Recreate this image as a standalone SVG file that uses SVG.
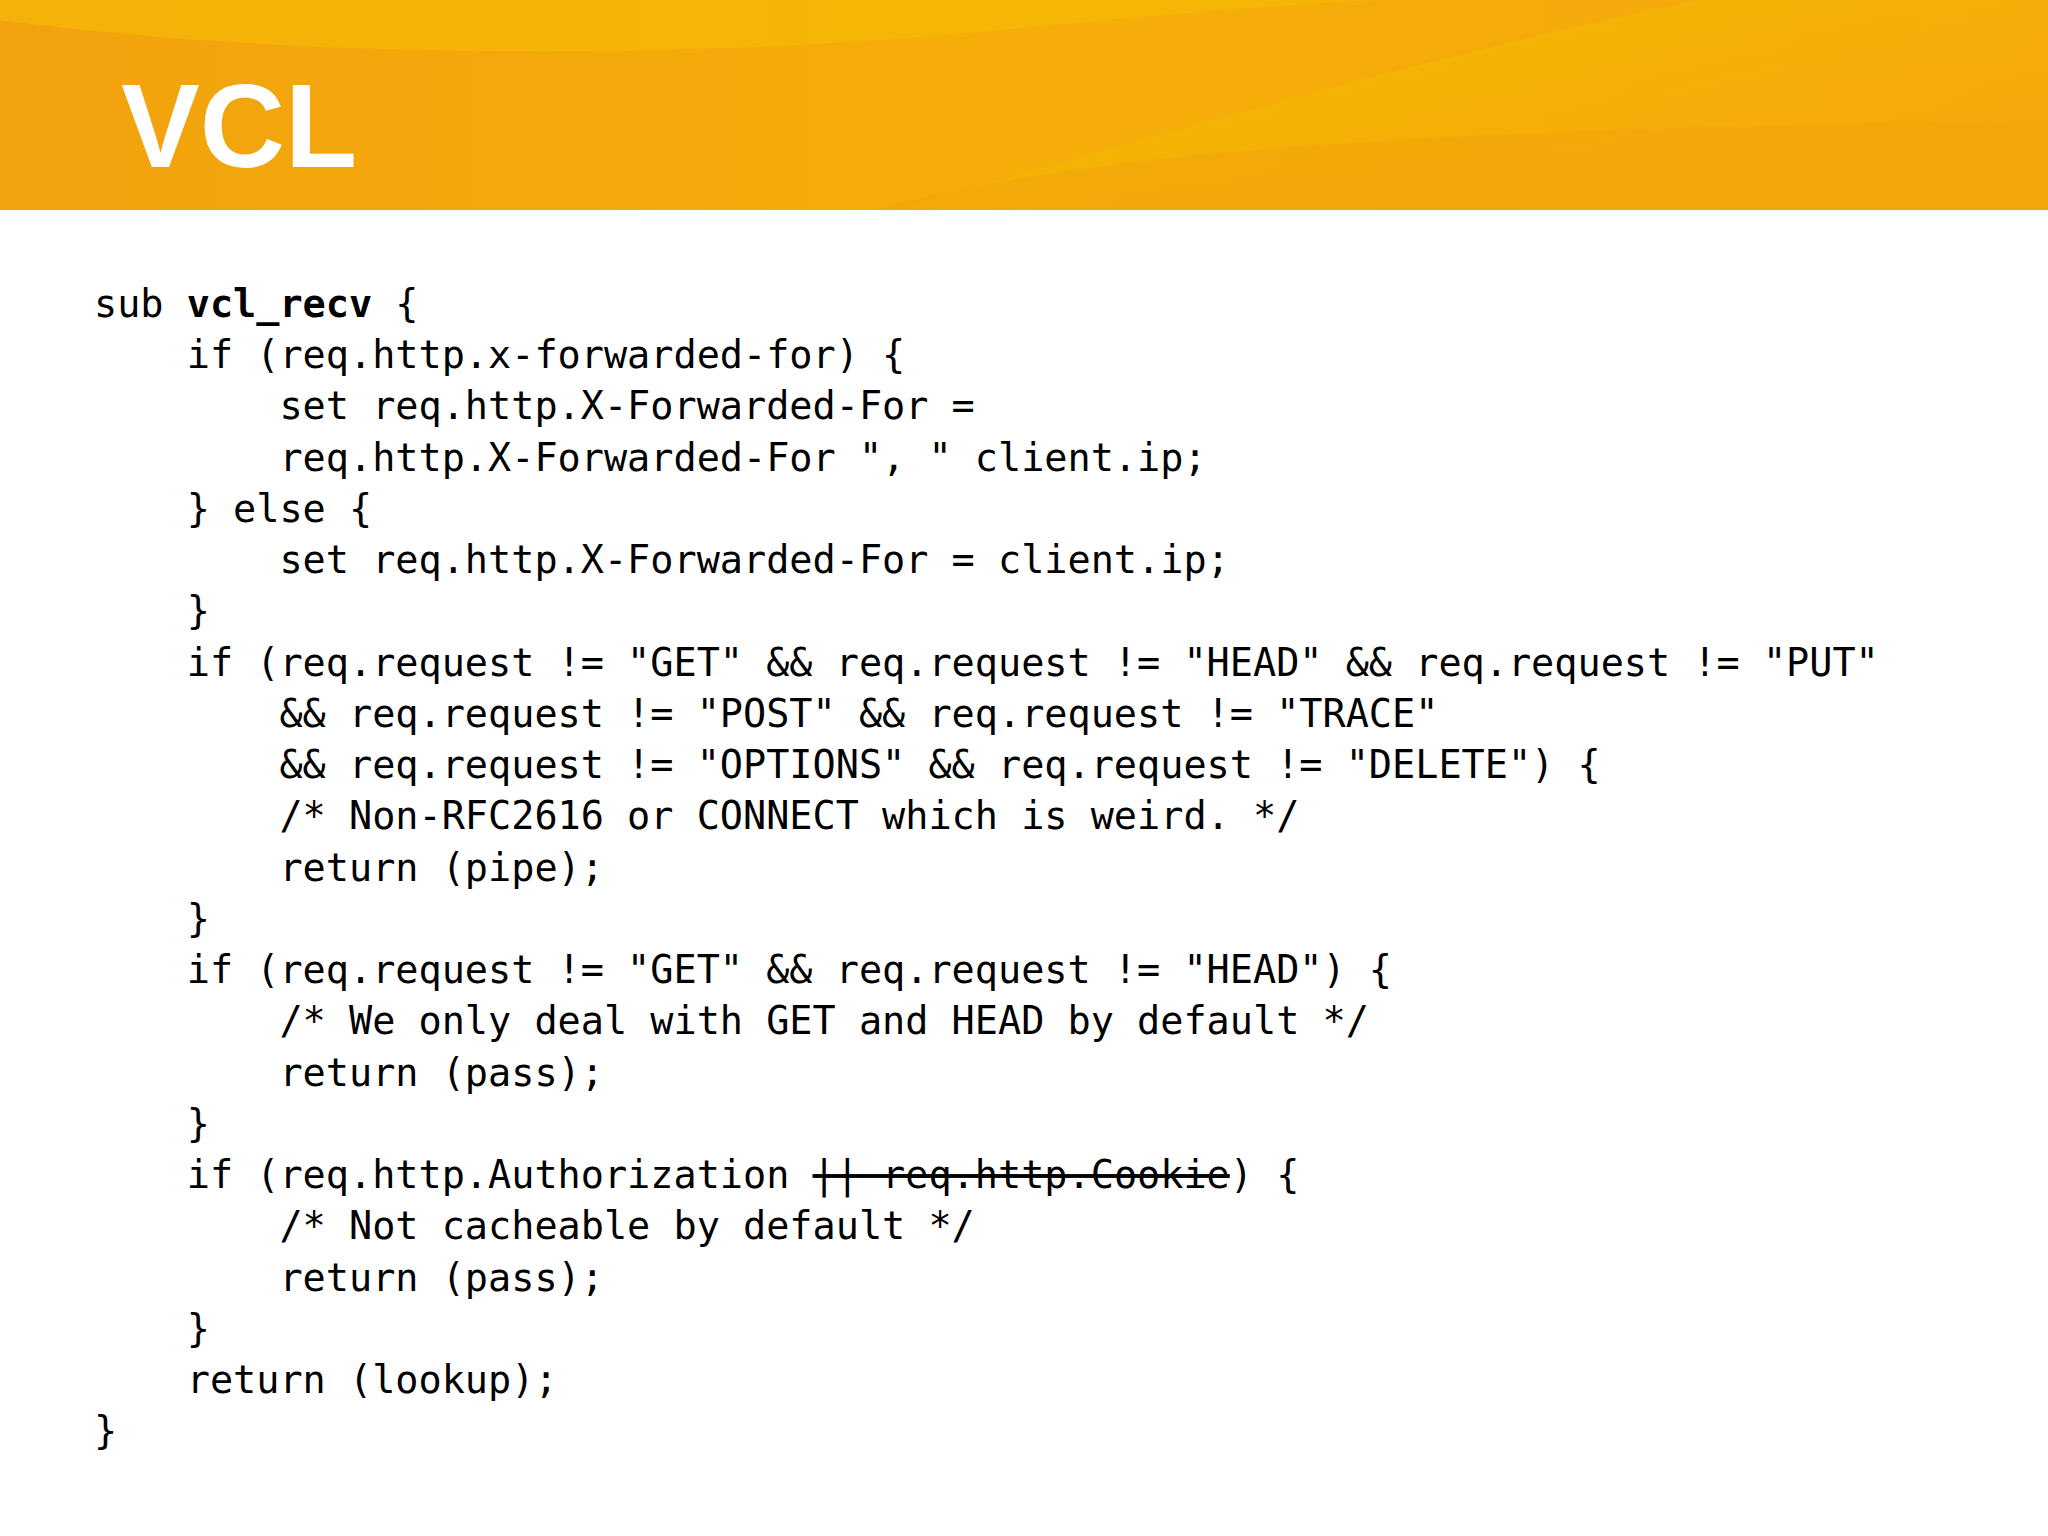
<svg xmlns="http://www.w3.org/2000/svg" width="2048" height="1536" viewBox="0 0 2048 1536">
<defs>
<linearGradient id="bg" x1="0" y1="0" x2="1" y2="0">
<stop offset="0" stop-color="#f2a20e"/><stop offset="0.5" stop-color="#f5ae08"/><stop offset="1" stop-color="#f4a80c"/>
</linearGradient>
<linearGradient id="sw" x1="0" y1="0" x2="1" y2="1">
<stop offset="0" stop-color="#f7c400" stop-opacity="0.7"/><stop offset="1" stop-color="#f2b000" stop-opacity="0"/>
</linearGradient>
</defs>
<style>
.c{font-family:"DejaVu Sans Mono","Liberation Mono",monospace;font-size:38.5px;fill:#000;white-space:pre}
</style>
<rect width="2048" height="1536" fill="#fff"/>
<g id="banner">
<rect width="2048" height="210" fill="url(#bg)"/>
<path d="M0,20 C300,60 700,60 1000,30 C1200,10 1350,0 1400,0 L0,0Z" fill="#f6bd05" opacity="0.6"/>
<path d="M900,210 C1200,120 1500,40 1700,0 L2048,0 L2048,120 C1700,140 1300,170 1000,210Z" fill="url(#sw)"/>
<path d="M870,210 C1100,150 1400,130 2048,120 L2048,210Z" fill="#f0a50a" opacity="0.6"/>
<text x="121" y="167" font-family="Liberation Sans, Arial, sans-serif" font-weight="bold" font-size="118" fill="#fff">VCL</text>
</g>
<g id="code" class="c">
<text class="c" x="94" y="317">sub <tspan font-weight="bold">vcl_recv</tspan> {</text>
<text class="c" x="94" y="368">    if (req.http.x-forwarded-for) {</text>
<text class="c" x="94" y="419">        set req.http.X-Forwarded-For =</text>
<text class="c" x="94" y="471">        req.http.X-Forwarded-For ", " client.ip;</text>
<text class="c" x="94" y="522">    } else {</text>
<text class="c" x="94" y="573">        set req.http.X-Forwarded-For = client.ip;</text>
<text class="c" x="94" y="624">    }</text>
<text class="c" x="94" y="676">    if (req.request != "GET" &amp;&amp; req.request != "HEAD" &amp;&amp; req.request != "PUT"</text>
<text class="c" x="94" y="727">        &amp;&amp; req.request != "POST" &amp;&amp; req.request != "TRACE"</text>
<text class="c" x="94" y="778">        &amp;&amp; req.request != "OPTIONS" &amp;&amp; req.request != "DELETE") {</text>
<text class="c" x="94" y="829">        /* Non-RFC2616 or CONNECT which is weird. */</text>
<text class="c" x="94" y="881">        return (pipe);</text>
<text class="c" x="94" y="932">    }</text>
<text class="c" x="94" y="983">    if (req.request != "GET" &amp;&amp; req.request != "HEAD") {</text>
<text class="c" x="94" y="1034">        /* We only deal with GET and HEAD by default */</text>
<text class="c" x="94" y="1086">        return (pass);</text>
<text class="c" x="94" y="1137">    }</text>
<text class="c" x="94" y="1188">    if (req.http.Authorization <tspan text-decoration="line-through">|| req.http.Cookie</tspan>) {</text>
<text class="c" x="94" y="1239">        /* Not cacheable by default */</text>
<text class="c" x="94" y="1291">        return (pass);</text>
<text class="c" x="94" y="1342">    }</text>
<text class="c" x="94" y="1393">    return (lookup);</text>
<text class="c" x="94" y="1444">}</text>
</g>
</svg>
